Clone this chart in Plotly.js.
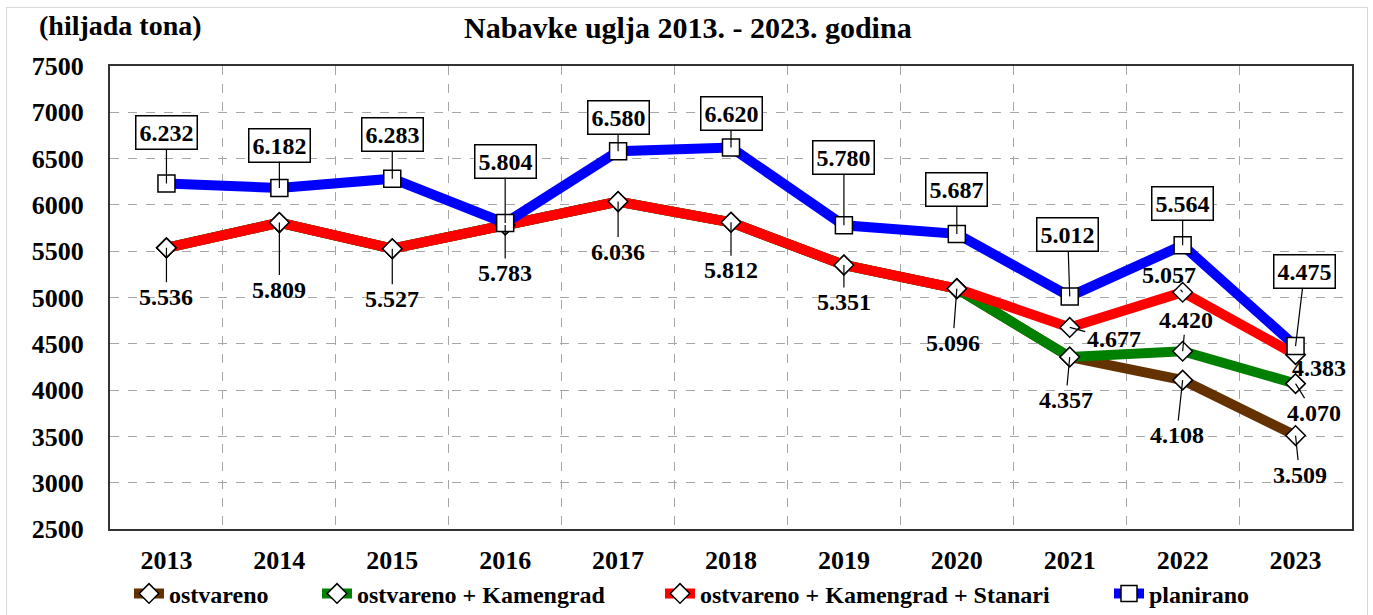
<!DOCTYPE html>
<html>
<head>
<meta charset="utf-8">
<script src="https://cdn.plot.ly/plotly-3.0.1.min.js"></script>
<style>
  html, body { margin: 0; padding: 0; background: #fff; }
  #frame { position: absolute; left: 6px; top: 7px; width: 1360px; height: 640px; border: 1px solid #d9d9d9; }
  #chart { position: absolute; left: 0; top: 0; width: 1373px; height: 615px; }
</style>
</head>
<body>
<div id="frame"></div>
<div id="chart"></div>
<script>
// ---- data ----
const years = ['2013','2014','2015','2016','2017','2018','2019','2020','2021','2022','2023'];
const ostvareno = [5536, 5809, 5527, 5783, 6036, 5812, 5351, 5096, 4357, 4108, 3509];
const ostvarenoKamengrad = [5536, 5809, 5527, 5783, 6036, 5812, 5351, 5096, 4357, 4420, 4070];
const ostvarenoKamengradStanari = [5536, 5809, 5527, 5783, 6036, 5812, 5351, 5096, 4677, 5057, 4383];
const planirano = [6232, 6182, 6283, 5804, 6580, 6620, 5780, 5687, 5012, 5564, 4475];
const seriesNames = ['ostvareno', 'ostvareno + Kamengrad', 'ostvareno + Kamengrad + Stanari', 'planirano'];

// label offsets (pixels) for callouts
const planOffsets = [[0,-51],[0,-43],[0,-44],[0,-62],[0,-34],[0,-34],[0,-68],[0,-44],[-2,-62],[0,-42],[9,-75]];
const redOffsets  = [[0,49],[0,67],[0,50],[0,48],[0,50],[0,48],[0,37],[-4,54],[44,12],[-14,-17],[23,13]];
const greenLabelIdx = [8, 9, 10];
const greenOffsets = [[-4,43],[3,-31],[18,29]];
const brownLabelIdx = [9, 10];
const brownOffsets = [[-6,55],[4,39]];
const legendWidths = [143, 298, 404, 120];

const FONT = 'Liberation Serif, Times New Roman, serif';
function fmt(v) { return Math.floor(v/1000) + '.' + String(v % 1000).padStart(3, '0'); }

function lineTrace(name, y, color, symbol, msize, lw) {
  return {
    type: 'scatter', mode: 'lines+markers', name: name, x: years, y: y,
    line: { color: color, width: 10 },
    marker: { symbol: symbol, size: msize, color: '#ffffff', line: { color: '#000000', width: 1.5 } },
    legendwidth: lw
  };
}

const traces = [
  lineTrace(seriesNames[0], ostvareno, '#633200', 'diamond', 15, legendWidths[0]),
  lineTrace(seriesNames[1], ostvarenoKamengrad, '#008000', 'diamond', 15, legendWidths[1]),
  lineTrace(seriesNames[2], ostvarenoKamengradStanari, '#ff0000', 'diamond', 15, legendWidths[2]),
  lineTrace(seriesNames[3], planirano, '#0000ff', 'square', 17, legendWidths[3])
];

const annFont = { family: FONT, size: 24, color: '#000', weight: 'bold' };
function callout(i, y, off, boxed) {
  const a = {
    x: i, y: y, xref: 'x', yref: 'y', text: fmt(y), font: annFont,
    showarrow: true, arrowhead: 0, arrowwidth: 1.2, arrowcolor: '#000',
    ax: off[0], ay: off[1], standoff: 0
  };
  if (boxed) { a.bordercolor = '#000'; a.borderwidth = 1.5; a.borderpad = 3; a.bgcolor = '#fff'; }
  return a;
}

const annotations = [];
planirano.forEach((v, i) => annotations.push(callout(i, v, planOffsets[i], true)));
ostvarenoKamengradStanari.forEach((v, i) => annotations.push(callout(i, v, redOffsets[i], false)));
greenLabelIdx.forEach((i, k) => annotations.push(callout(i, ostvarenoKamengrad[i], greenOffsets[k], false)));
brownLabelIdx.forEach((i, k) => annotations.push(callout(i, ostvareno[i], brownOffsets[k], false)));
annotations.push({
  xref: 'paper', yref: 'paper', x: -0.059, y: 1.088, xanchor: 'left', yanchor: 'middle',
  text: '(hiljada tona)', showarrow: false,
  font: { family: FONT, size: 28, color: '#000', weight: 'bold' }
});

const layout = {
  width: 1373, height: 615,
  margin: { l: 110, r: 21, t: 66, b: 86, autoexpand: false },
  paper_bgcolor: 'rgba(0,0,0,0)', plot_bgcolor: '#fff',
  title: {
    text: 'Nabavke uglja 2013. - 2023. godina',
    x: 0.501, xanchor: 'center', y: 0.955, yanchor: 'middle',
    font: { family: FONT, size: 30, color: '#000', weight: 'bold' }
  },
  xaxis: {
    type: 'category', range: [-0.5, 10.5], tickson: 'boundaries',
    showgrid: true, gridcolor: '#a6a6a6', gridwidth: 1, griddash: 'dash',
    showline: true, linecolor: '#333', linewidth: 2, mirror: true, ticks: '',
    ticklabelstandoff: 7,
    tickfont: { family: FONT, size: 26, color: '#000', weight: 'bold' }
  },
  yaxis: {
    range: [2500, 7500], dtick: 500, tick0: 2500,
    showgrid: true, gridcolor: '#a6a6a6', gridwidth: 1, griddash: 'dash', zeroline: false,
    showline: true, linecolor: '#333', linewidth: 2, mirror: true, ticks: '',
    ticklabelstandoff: 19,
    tickfont: { family: FONT, size: 26, color: '#000', weight: 'bold' }
  },
  legend: {
    orientation: 'h', x: 0.0153, xanchor: 'left', y: -0.14, yanchor: 'middle',
    font: { family: FONT, size: 24, color: '#000', weight: 'bold' },
    bgcolor: 'rgba(0,0,0,0)', traceorder: 'normal'
  },
  showlegend: true,
  annotations: annotations
};

Plotly.newPlot('chart', traces, layout, { displayModeBar: false, staticPlot: true });
</script>
</body>
</html>
